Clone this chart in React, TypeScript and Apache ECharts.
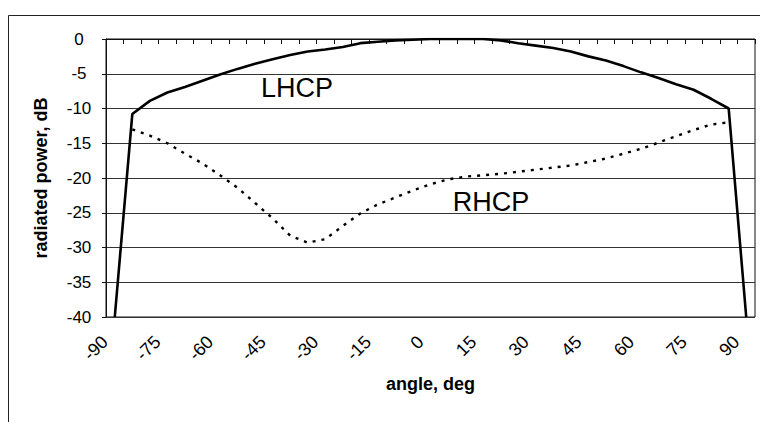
import React, { useEffect, useRef } from "react";
import * as echarts from "echarts";

const angles = [
  "-90", "-85", "-80", "-75", "-70", "-65", "-60", "-55", "-50", "-45",
  "-40", "-35", "-30", "-25", "-20", "-15", "-10", "-5", "0", "5",
  "10", "15", "20", "25", "30", "35", "40", "45", "50", "55",
  "60", "65", "70", "75", "80", "85", "90",
];

const lhcp = [
  -40, -10.8, -8.9, -7.7, -6.9, -6.0, -5.1, -4.3, -3.55, -2.9,
  -2.3, -1.8, -1.5, -1.15, -0.6, -0.4, -0.2, -0.1, 0, 0,
  0, 0, -0.2, -0.6, -0.95, -1.3, -1.8, -2.5, -3.1, -3.9,
  -4.8, -5.6, -6.5, -7.3, -8.6, -10.0, -40,
];

const rhcp = [
  null, -13.0, -13.9, -15.0, -16.5, -17.9, -19.6, -21.4, -23.6, -25.8,
  -28.3, -29.3, -28.8, -26.9, -25.1, -23.8, -22.8, -21.8, -20.9, -20.2,
  -19.8, -19.6, -19.4, -19.1, -18.8, -18.5, -18.2, -17.7, -17.2, -16.5,
  -15.8, -14.9, -14.0, -13.1, -12.3, -12.0, null,
];

const yMin = -40;
const yMax = 0;
const yStep = 5;

const FONT = '"Liberation Sans", Arial, sans-serif';

export default function App() {
  const ref = useRef<HTMLDivElement>(null);

  useEffect(() => {
    if (!ref.current) return;
    const chart = echarts.init(ref.current, null, { renderer: "svg" });
    chart.setOption({
      animation: false,
      backgroundColor: "#ffffff",
      textStyle: { fontFamily: FONT, color: "#000" },
      grid: {
        left: 106,
        right: 5,
        top: 39,
        bottom: 105,
        show: true,
        borderColor: "#111",
        borderWidth: 1,
        backgroundColor: "transparent",
      },
      xAxis: {
        type: "category",
        data: angles,
        boundaryGap: true,
        name: "angle, deg",
        nameLocation: "middle",
        nameGap: 58,
        nameTextStyle: {
          fontFamily: FONT,
          fontWeight: "bold",
          fontSize: 18,
          color: "#000",
        },
        axisLine: { show: true, lineStyle: { color: "#111", width: 1 } },
        axisTick: {
          show: true,
          interval: 0,
          length: 5,
          lineStyle: { color: "#111", width: 1 },
        },
        axisLabel: {
          interval: 2,
          rotate: 45,
          margin: 12,
          padding: [0, 14, 0, 0],
          fontFamily: FONT,
          fontSize: 18,
          color: "#000",
        },
        splitLine: { show: false },
      },
      yAxis: {
        type: "value",
        min: yMin,
        max: yMax,
        interval: yStep,
        name: "radiated power, dB",
        nameLocation: "middle",
        nameGap: 56,
        nameRotate: 90,
        nameTextStyle: {
          fontFamily: FONT,
          fontWeight: "bold",
          fontSize: 18,
          color: "#000",
        },
        axisLine: { show: true, lineStyle: { color: "#111", width: 1 } },
        axisTick: {
          show: true,
          length: 4,
          lineStyle: { color: "#111", width: 1 },
        },
        axisLabel: {
          align: "center",
          margin: 27,
          fontFamily: FONT,
          fontSize: 17,
          color: "#000",
        },
        splitLine: { show: true, lineStyle: { color: "#333", width: 1 } },
      },
      series: [
        {
          name: "LHCP",
          type: "line",
          data: lhcp,
          showSymbol: false,
          symbol: "none",
          smooth: false,
          lineStyle: { color: "#000", width: 2.6, type: "solid" },
          z: 3,
        },
        {
          name: "RHCP",
          type: "line",
          data: rhcp,
          showSymbol: false,
          symbol: "none",
          smooth: false,
          connectNulls: false,
          lineStyle: { color: "#000", width: 2.4, type: [3, 6] },
          z: 2,
        },
      ],
      graphic: [
        {
          type: "rect",
          shape: { x: 8.5, y: 15.5, width: 900, height: 600 },
          style: { fill: "none", stroke: "#222", lineWidth: 1 },
          silent: true,
          z: -1,
        },
        {
          type: "text",
          x: 297,
          y: 88,
          style: {
            text: "LHCP",
            fontFamily: FONT,
            fontSize: 27,
            fill: "#000",
            textAlign: "center",
            textVerticalAlign: "middle",
          },
          z: 10,
        },
        {
          type: "text",
          x: 491,
          y: 202,
          style: {
            text: "RHCP",
            fontFamily: FONT,
            fontSize: 27,
            fill: "#000",
            textAlign: "center",
            textVerticalAlign: "middle",
          },
          z: 10,
        },
      ],
    });
    return () => {
      chart.dispose();
    };
  }, []);

  return (
    <div
      ref={ref}
      style={{
        position: "absolute",
        left: 0,
        top: 0,
        width: 760,
        height: 422,
        background: "#fff",
      }}
    />
  );
}
